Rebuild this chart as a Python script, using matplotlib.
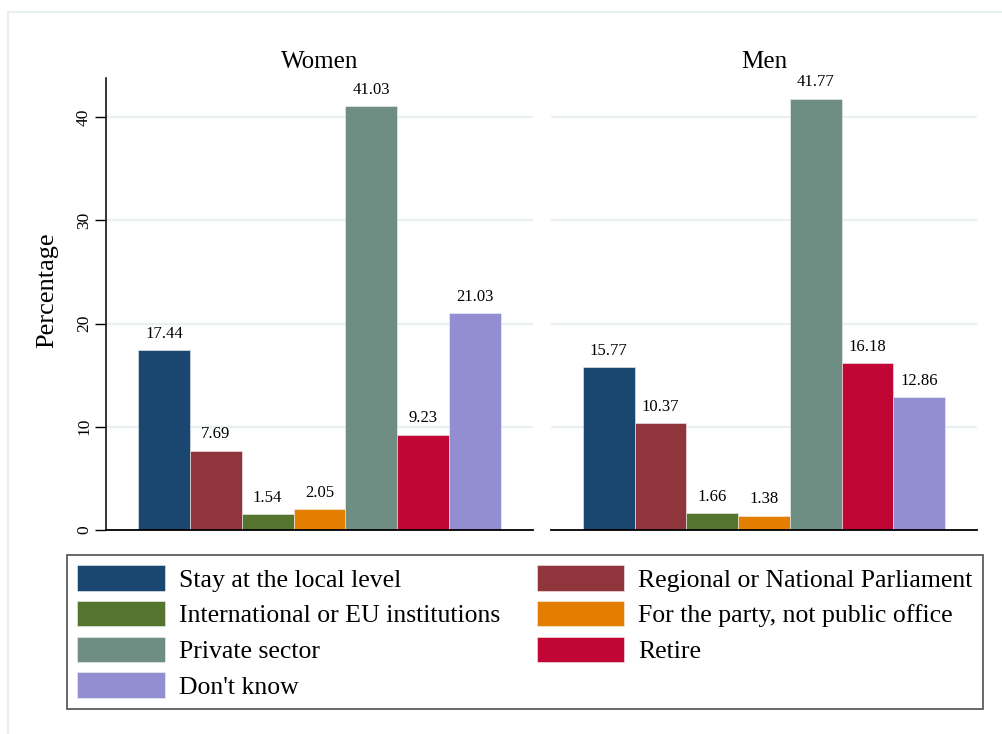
import matplotlib
matplotlib.use("Agg")
import matplotlib.pyplot as plt
from matplotlib.patches import Patch
from matplotlib.lines import Line2D

plt.rcParams['font.family'] = ['Liberation Serif', 'DejaVu Serif']

categories = [
    "Stay at the local level",
    "Regional or National Parliament",
    "International or EU institutions",
    "For the party, not public office",
    "Private sector",
    "Retire",
    "Don't know",
]
colors = ["#1a476f", "#90353b", "#55752f", "#e37e00", "#6e8e84", "#c10534", "#938dd2"]
panels = ["Women", "Men"]
women = [17.44, 7.69, 1.54, 2.05, 41.03, 9.23, 21.03]
men = [15.77, 10.37, 1.66, 1.38, 41.77, 16.18, 12.86]
yticks = [0, 10, 20, 30, 40]

W, H = 1003, 734
fig = plt.figure(figsize=(W / 100, H / 100), dpi=100)
fig.patch.set_facecolor("white")

# light outer frame of the graph region
fig.add_artist(Line2D([8 / W, 8 / W], [0, 1 - 12 / H], color="#e4ecec", lw=1.2))
fig.add_artist(Line2D([8 / W, 1], [1 - 12 / H, 1 - 12 / H], color="#e4ecec", lw=1.2))


def px_axes(x0, x1, y0, y1):
    return fig.add_axes([x0 / W, 1 - y1 / H, (x1 - x0) / W, (y1 - y0) / H])


axes = [px_axes(106, 533, 78, 530), px_axes(551, 977, 78, 530)]
pad = 0.617
for i, (ax, title, vals) in enumerate(zip(axes, panels, [women, men])):
    xs = list(range(len(vals)))
    ax.set_xlim(-0.5 - pad, len(vals) - 0.5 + pad)
    ax.set_ylim(0, 43.78)
    for y in yticks[1:]:
        ax.axhline(y, color="#e9eff2", lw=1.6, zorder=0)
    ax.bar(xs, vals, width=1.0, color=colors, edgecolor="#f2f2f2", linewidth=0.4, zorder=2)
    for x, v in zip(xs, vals):
        ax.annotate(f"{v:.2f}", (x, v), xytext=(0, 6), textcoords="offset points",
                    ha="center", va="bottom", fontsize=12)
    ax.set_title(title, fontsize=18, pad=7)
    ax.set_xticks([])
    for s in ["top", "right"]:
        ax.spines[s].set_visible(False)
    ax.spines["bottom"].set_linewidth(1.3)
    ax.spines["bottom"].set_color("black")
    if i == 0:
        ax.spines["left"].set_linewidth(1.1)
        ax.set_yticks(yticks)
        ax.set_yticklabels([str(t) for t in yticks], rotation=90, va="center", fontsize=12.5)
        ax.tick_params(axis="y", length=8, width=1.0, pad=2)
        ax.set_ylabel("Percentage", fontsize=19)
        ax.yaxis.set_label_coords(-0.112, 0.531)
    else:
        ax.spines["left"].set_visible(False)
        ax.set_yticks([])
    ax.set_facecolor("none")

# legend filled column by column, so reorder to read row by row
order = [0, 2, 4, 6, 1, 3, 5]
handles = [Patch(facecolor=colors[k], edgecolor="#f2f2f2", linewidth=0.4) for k in order]
labels = [categories[k] for k in order]
leg = fig.legend(handles, labels, ncol=2, loc="upper left",
                 bbox_to_anchor=(67 / W, 1 - 555 / H),
                 borderaxespad=0, fontsize=18.5, frameon=True,
                 fancybox=False, handlelength=3.4, handleheight=1.15,
                 handletextpad=0.55, labelspacing=0.36, borderpad=0.4, columnspacing=1.42)
leg.get_frame().set_edgecolor("#333333")
leg.get_frame().set_linewidth(1.3)

fig.savefig("out.png", dpi=100, facecolor="white")
